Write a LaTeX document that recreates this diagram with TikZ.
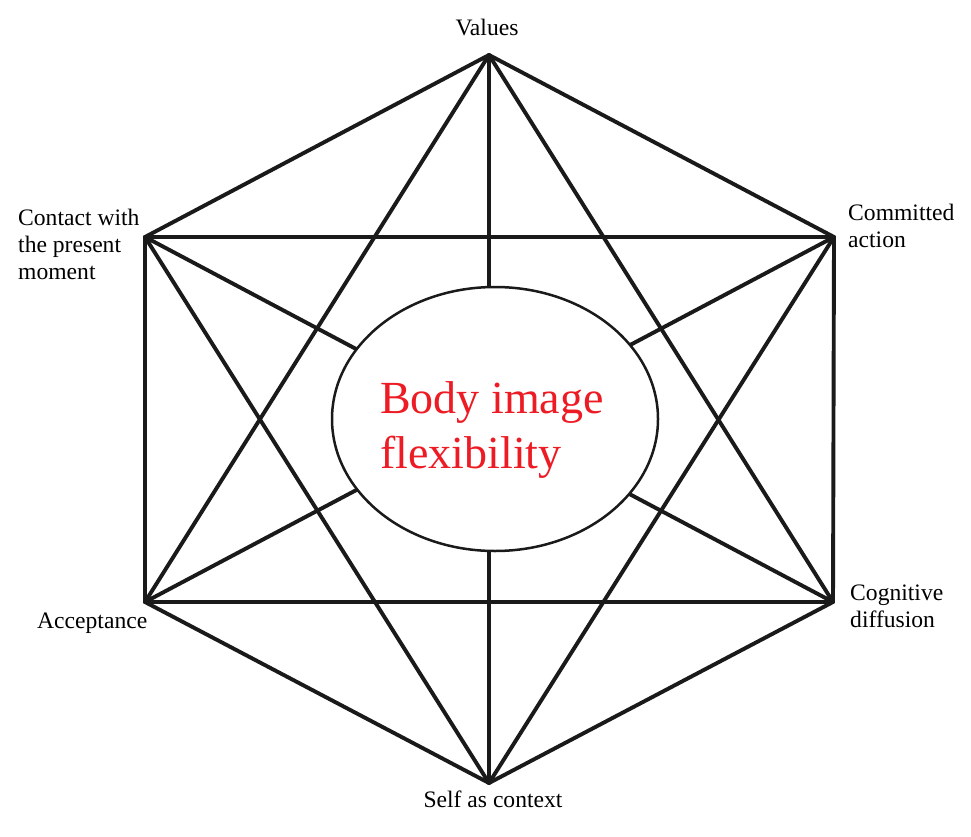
\documentclass[tikz,border=0pt]{standalone}
\usepackage{fontspec}
\setmainfont{Liberation Serif}
\usetikzlibrary{shapes.geometric}
\definecolor{inkline}{RGB}{26,26,26}
\definecolor{hubred}{RGB}{237,28,36}
\tikzset{
  edge/.style={draw=inkline, line width=3.9pt, line cap=round, line join=round},
  hubshape/.style={ellipse, draw=inkline, fill=white, line width=2.5pt, inner sep=0pt, minimum width=326pt, minimum height=264pt},
  lbl/.style={font=\fontsize{23.6}{26.7}\selectfont, inner sep=0pt, align=left},
  hubtxt/.style={font=\fontsize{46}{55}\selectfont, text=hubred, inner sep=0pt, align=left}
}
\begin{document}
\begin{tikzpicture}[x=1pt,y=-1pt]
\useasboundingbox (0,0) rectangle (971,837);
\coordinate (V) at (489,55);
\coordinate (CA) at (834,237);
\coordinate (CD) at (833,602);
\coordinate (SC) at (489,783);
\coordinate (AC) at (145,602);
\coordinate (CP) at (145,237);
% hexagon edges and all diagonals
\foreach \a/\b in {V/CA,CA/CD,CD/SC,SC/AC,AC/CP,CP/V,
                   V/CD,V/AC,V/SC,CA/SC,CA/CP,CA/AC,
                   CD/AC,CD/CP,SC/CP}
  \draw[edge] (\a) -- (\b);
\node[hubshape] (hub) at (495,419) {};
\node[hubtxt, anchor=base west] (hubtext) at (380,468) {Body image\\flexibility};
\node[lbl, anchor=base] (lV) at (487,36) {Values};
\node[lbl, anchor=base west] (lCP) at (18,279) {Contact with\\the present\\moment};
\node[lbl, anchor=base west] (lCA) at (848,247) {Committed\\action};
\node[lbl, anchor=base west] (lAC) at (37,628) {Acceptance};
\node[lbl, anchor=base west] (lCD) at (850,627) {Cognitive\\diffusion};
\node[lbl, anchor=base] (lSC) at (493,807) {Self as context};
\end{tikzpicture}
\end{document}
